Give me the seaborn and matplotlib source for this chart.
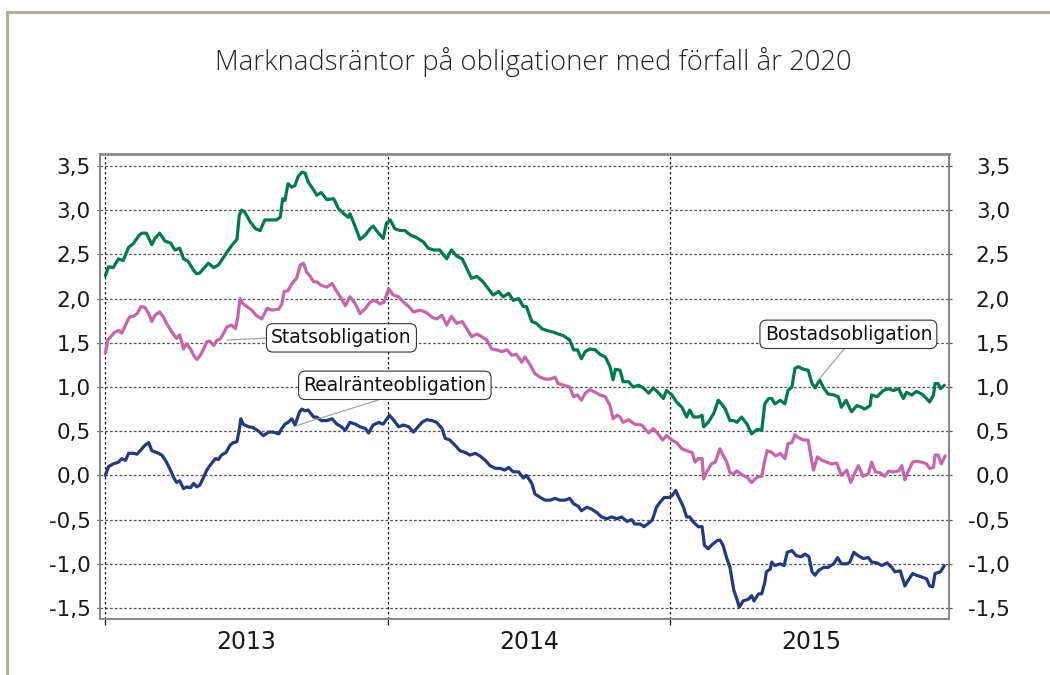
import numpy as np
import pandas as pd
import seaborn as sns
import matplotlib.pyplot as plt
import matplotlib.dates as mdates
from matplotlib.ticker import FixedLocator, FuncFormatter, NullFormatter
from matplotlib.lines import Line2D

# time is given in years after 2013-01-01
bostad_t = [0.000, 0.011, 0.028, 0.046, 0.064, 0.081, 0.099, 0.117, 0.129, 0.146, 0.164, 0.176, 0.191, 0.211, 0.229, 0.247, 0.264, 0.276, 0.294, 0.311,
            0.323, 0.335, 0.353, 0.364, 0.382, 0.400, 0.418, 0.435, 0.453, 0.465, 0.474, 0.482, 0.494, 0.512, 0.530, 0.547, 0.565, 0.583, 0.606, 0.618,
            0.627, 0.636, 0.647, 0.659, 0.671, 0.683, 0.695, 0.706, 0.718, 0.736,
            0.748, 0.765, 0.783, 0.807, 0.824, 0.842, 0.860, 0.866, 0.883, 0.901, 0.919, 0.936, 0.948, 0.966, 0.984, 0.995, 1.007, 1.025, 1.043, 1.060,
            1.078, 1.101, 1.125, 1.143, 1.160, 1.184, 1.208, 1.225, 1.243, 1.261, 1.278, 1.296, 1.314, 1.337, 1.355, 1.373, 1.390, 1.408, 1.426, 1.443,
            1.461, 1.479,
            1.490, 1.508, 1.526, 1.544, 1.561, 1.585, 1.603, 1.620, 1.644, 1.656, 1.670, 1.685, 1.697, 1.715, 1.732, 1.750, 1.768, 1.785, 1.795, 1.803,
            1.821, 1.832, 1.850, 1.868, 1.886, 1.903, 1.921, 1.939, 1.956, 1.974, 1.986, 2.003, 2.021, 2.039, 2.056, 2.068, 2.080, 2.098, 2.110, 2.115,
            2.133, 2.151, 2.169, 2.180, 2.192, 2.210, 2.222,
            2.233, 2.251, 2.269, 2.286, 2.304, 2.322, 2.334, 2.345, 2.357, 2.369, 2.387, 2.404, 2.416, 2.428, 2.440, 2.451, 2.469, 2.487, 2.499, 2.510,
            2.526, 2.540, 2.558, 2.575, 2.593, 2.605, 2.620, 2.640, 2.658, 2.675, 2.687, 2.705, 2.711, 2.729, 2.752, 2.770, 2.787, 2.805, 2.823, 2.835,
            2.852, 2.870, 2.888, 2.906, 2.917, 2.929, 2.935, 2.947, 2.955, 2.967]
bostad_v = [2.26, 2.36, 2.35, 2.45, 2.43, 2.58, 2.62, 2.71, 2.74, 2.74, 2.61, 2.68, 2.74, 2.65, 2.63, 2.55, 2.57, 2.45, 2.42, 2.32,
            2.28, 2.29, 2.36, 2.40, 2.35, 2.38, 2.47, 2.55, 2.62, 2.67, 2.94, 3.00, 2.98, 2.87, 2.79, 2.77, 2.89, 2.89, 2.89, 2.92,
            3.13, 3.11, 3.30, 3.26, 3.28, 3.38, 3.43, 3.42, 3.32, 3.23,
            3.17, 3.20, 3.12, 3.13, 3.02, 2.96, 2.92, 2.96, 2.81, 2.67, 2.72, 2.79, 2.82, 2.74, 2.68, 2.85, 2.89, 2.79, 2.77, 2.77,
            2.72, 2.69, 2.64, 2.57, 2.55, 2.55, 2.45, 2.55, 2.48, 2.45, 2.34, 2.23, 2.25, 2.19, 2.11, 2.04, 2.08, 2.02, 2.06, 1.98,
            2.00, 1.91,
            1.91, 1.74, 1.72, 1.66, 1.64, 1.62, 1.60, 1.58, 1.53, 1.42, 1.42, 1.32, 1.40, 1.43, 1.42, 1.37, 1.34, 1.23, 1.08, 1.20,
            1.19, 1.06, 1.06, 1.00, 1.02, 0.99, 0.93, 0.99, 0.94, 0.87, 0.96, 0.91, 0.83, 0.77, 0.66, 0.74, 0.66, 0.66, 0.68, 0.55,
            0.60, 0.70, 0.85, 0.81, 0.75, 0.62, 0.62,
            0.60, 0.66, 0.58, 0.47, 0.52, 0.51, 0.81, 0.87, 0.87, 0.81, 0.85, 0.81, 0.96, 1.00, 1.21, 1.23, 1.20, 1.19, 1.04, 0.99,
            1.08, 0.99, 0.92, 0.91, 0.89, 0.77, 0.85, 0.72, 0.79, 0.77, 0.75, 0.79, 0.91, 0.89, 0.96, 0.98, 0.96, 0.98, 0.87, 0.94,
            0.91, 0.95, 0.92, 0.87, 0.83, 0.91, 1.04, 1.04, 0.98, 1.02]

stats_t = [0.000, 0.007, 0.023, 0.034, 0.046, 0.058, 0.070, 0.085, 0.099, 0.113, 0.125, 0.140, 0.152, 0.164, 0.176, 0.191, 0.205, 0.217, 0.235, 0.252,
           0.264, 0.276, 0.288, 0.300, 0.311, 0.323, 0.335, 0.347, 0.359, 0.370, 0.382, 0.394, 0.406, 0.418, 0.429, 0.447, 0.459, 0.467, 0.476, 0.488,
           0.500, 0.518, 0.535, 0.553, 0.571, 0.589, 0.612, 0.624, 0.632, 0.647, 0.659, 0.677, 0.689, 0.700, 0.712, 0.724, 0.736,
           0.748, 0.765, 0.783, 0.801, 0.819, 0.836, 0.848, 0.866, 0.883, 0.901, 0.919, 0.936, 0.954, 0.972, 0.986, 1.001, 1.019, 1.037, 1.054, 1.072,
           1.090, 1.113, 1.137, 1.155, 1.172, 1.190, 1.208, 1.225, 1.243, 1.261, 1.278, 1.296, 1.314, 1.331, 1.349, 1.367, 1.384, 1.402, 1.420, 1.437,
           1.455, 1.473,
           1.485, 1.502, 1.520, 1.538, 1.555, 1.573, 1.591, 1.603, 1.620, 1.644, 1.656, 1.670, 1.685, 1.697, 1.715, 1.732, 1.750, 1.768, 1.785, 1.795,
           1.809, 1.821, 1.832, 1.850, 1.874, 1.897, 1.921, 1.939, 1.956, 1.972, 1.986, 2.003, 2.021, 2.039, 2.056, 2.074, 2.086, 2.098, 2.110, 2.115,
           2.127, 2.145, 2.157, 2.175, 2.186, 2.198, 2.210, 2.222,
           2.233, 2.251, 2.269, 2.286, 2.304, 2.322, 2.334, 2.342, 2.357, 2.372, 2.387, 2.404, 2.416, 2.428, 2.440, 2.451, 2.469, 2.487, 2.499, 2.505,
           2.519, 2.534, 2.552, 2.569, 2.587, 2.605, 2.622, 2.637, 2.652, 2.664, 2.681, 2.699, 2.711, 2.723, 2.740, 2.758, 2.770, 2.787, 2.805, 2.817,
           2.829, 2.840, 2.856, 2.870, 2.888, 2.906, 2.917, 2.929, 2.935, 2.947, 2.958, 2.970]
stats_v = [1.38, 1.53, 1.58, 1.62, 1.64, 1.61, 1.70, 1.79, 1.80, 1.83, 1.91, 1.90, 1.83, 1.74, 1.81, 1.85, 1.79, 1.72, 1.62, 1.55,
           1.59, 1.43, 1.49, 1.43, 1.36, 1.31, 1.35, 1.43, 1.51, 1.52, 1.47, 1.53, 1.54, 1.61, 1.68, 1.70, 1.66, 1.79, 2.00, 1.94,
           1.91, 1.87, 1.81, 1.77, 1.89, 1.87, 1.88, 1.94, 2.08, 2.09, 2.17, 2.23, 2.38, 2.40, 2.30, 2.26, 2.19,
           2.19, 2.15, 2.13, 2.17, 2.08, 2.00, 1.92, 2.02, 1.94, 1.83, 1.89, 1.96, 1.98, 1.94, 1.96, 2.11, 2.04, 2.02, 1.96, 1.91,
           1.85, 1.87, 1.84, 1.79, 1.77, 1.81, 1.70, 1.80, 1.72, 1.74, 1.66, 1.57, 1.60, 1.57, 1.53, 1.43, 1.42, 1.40, 1.42, 1.36,
           1.37, 1.28,
           1.34, 1.25, 1.15, 1.11, 1.09, 1.09, 1.11, 1.04, 1.02, 1.00, 0.89, 0.91, 0.85, 0.93, 0.97, 0.94, 0.91, 0.89, 0.79, 0.64,
           0.68, 0.66, 0.60, 0.63, 0.58, 0.57, 0.48, 0.53, 0.47, 0.40, 0.45, 0.40, 0.37, 0.30, 0.28, 0.26, 0.15, 0.19, 0.19, -0.04,
           0.04, 0.13, 0.15, 0.30, 0.23, 0.15, 0.03, 0.02,
           0.05, 0.01, -0.02, -0.08, -0.02, -0.01, 0.17, 0.28, 0.26, 0.22, 0.25, 0.19, 0.36, 0.37, 0.46, 0.43, 0.40, 0.40, 0.15, 0.06,
           0.21, 0.17, 0.15, 0.13, 0.14, 0.00, 0.06, -0.08, 0.04, 0.11, -0.01, 0.02, 0.15, 0.04, 0.03, -0.01, 0.05, 0.04, 0.05, 0.11,
           -0.05, 0.04, 0.15, 0.16, 0.15, 0.13, 0.08, 0.09, 0.23, 0.23, 0.13, 0.22]

real_t = [0.000, 0.011, 0.028, 0.046, 0.058, 0.070, 0.081, 0.099, 0.113, 0.129, 0.140, 0.152, 0.164, 0.182, 0.199, 0.217, 0.229, 0.241, 0.252, 0.264,
          0.276, 0.288, 0.300, 0.311, 0.323, 0.335, 0.347, 0.359, 0.370, 0.388, 0.400, 0.412, 0.427, 0.441, 0.453, 0.465, 0.474, 0.479, 0.488, 0.506,
          0.524, 0.541, 0.559, 0.577, 0.594, 0.612, 0.624, 0.636, 0.647, 0.659, 0.671, 0.686, 0.695, 0.706, 0.718, 0.736,
          0.748, 0.765, 0.783, 0.801, 0.819, 0.836, 0.848, 0.866, 0.883, 0.901, 0.919, 0.931, 0.948, 0.966, 0.984, 1.005, 1.019, 1.037, 1.054, 1.072,
          1.090, 1.101, 1.119, 1.137, 1.155, 1.172, 1.190, 1.202, 1.219, 1.237, 1.255, 1.272, 1.290, 1.308, 1.325, 1.343, 1.361, 1.379, 1.396, 1.414,
          1.426, 1.443, 1.461, 1.479,
          1.490, 1.508, 1.520, 1.538, 1.555, 1.573, 1.591, 1.608, 1.626, 1.644, 1.656, 1.673, 1.685, 1.703, 1.720, 1.738, 1.756, 1.773, 1.791, 1.809,
          1.827, 1.844, 1.862, 1.874, 1.891, 1.906, 1.921, 1.933, 1.939, 1.950, 1.962, 1.976, 1.992, 2.003, 2.019, 2.030, 2.045, 2.056, 2.068, 2.080,
          2.098, 2.110, 2.118, 2.133, 2.145, 2.163, 2.175, 2.186, 2.198, 2.210, 2.222,
          2.233, 2.243, 2.257, 2.275, 2.286, 2.295, 2.310, 2.322, 2.334, 2.339, 2.351, 2.357, 2.369, 2.387, 2.401, 2.413, 2.428, 2.446, 2.460, 2.475,
          2.490, 2.499, 2.510, 2.522, 2.540, 2.558, 2.575, 2.589, 2.605, 2.622, 2.634, 2.648, 2.664, 2.681, 2.699, 2.711, 2.729, 2.746, 2.764, 2.782,
          2.793, 2.811, 2.829, 2.840, 2.856, 2.870, 2.888, 2.906, 2.917, 2.927, 2.935, 2.953, 2.967]
real_v = [0.00, 0.10, 0.13, 0.15, 0.19, 0.17, 0.25, 0.25, 0.24, 0.30, 0.34, 0.37, 0.28, 0.26, 0.23, 0.15, 0.06, -0.02, -0.08, -0.06,
          -0.15, -0.13, -0.14, -0.09, -0.13, -0.11, -0.02, 0.06, 0.11, 0.19, 0.18, 0.23, 0.26, 0.34, 0.37, 0.38, 0.52, 0.64, 0.58, 0.55,
          0.54, 0.50, 0.45, 0.49, 0.49, 0.47, 0.53, 0.58, 0.60, 0.64, 0.57, 0.72, 0.75, 0.73, 0.74, 0.66,
          0.66, 0.62, 0.62, 0.64, 0.58, 0.55, 0.51, 0.60, 0.58, 0.55, 0.53, 0.48, 0.57, 0.60, 0.58, 0.68, 0.63, 0.55, 0.57, 0.55,
          0.49, 0.53, 0.60, 0.63, 0.62, 0.60, 0.53, 0.42, 0.40, 0.34, 0.28, 0.26, 0.23, 0.25, 0.22, 0.17, 0.11, 0.08, 0.08, 0.06,
          0.09, 0.04, 0.04, -0.03,
          0.00, -0.09, -0.21, -0.25, -0.28, -0.28, -0.26, -0.28, -0.28, -0.26, -0.32, -0.35, -0.40, -0.36, -0.38, -0.42, -0.47, -0.49, -0.47, -0.49,
          -0.47, -0.52, -0.50, -0.55, -0.55, -0.58, -0.54, -0.51, -0.47, -0.36, -0.30, -0.25, -0.25, -0.23, -0.17, -0.25, -0.36, -0.47, -0.47, -0.53,
          -0.58, -0.58, -0.79, -0.83, -0.79, -0.74, -0.73, -0.79, -0.94, -1.04, -1.30,
          -1.40, -1.49, -1.42, -1.40, -1.36, -1.42, -1.34, -1.34, -1.21, -1.09, -1.06, -0.98, -1.02, -1.00, -1.02, -0.87, -0.85, -0.91, -0.92, -0.89,
          -0.92, -1.09, -1.13, -1.08, -1.04, -1.04, -1.00, -0.93, -1.00, -1.00, -0.98, -0.87, -0.91, -0.94, -0.93, -0.98, -0.99, -1.02, -0.99, -1.04,
          -1.09, -1.08, -1.25, -1.19, -1.11, -1.13, -1.15, -1.17, -1.25, -1.26, -1.11, -1.09, -1.02]

series_names = ["Bostadsobligation", "Statsobligation", "Realränteobligation"]
series_colors = ["#007a4c", "#c566a9", "#243a7f"]
y_ticks = [-1.5, -1.0, -0.5, 0.0, 0.5, 1.0, 1.5, 2.0, 2.5, 3.0, 3.5]
title = "Marknadsräntor på obligationer med förfall år 2020"


def to_date(t):
    days = np.round(np.asarray(t, dtype=float) * 365.25)
    return pd.Timestamp("2013-01-01") + pd.to_timedelta(days, unit="D")


def fmt(v, pos=None):
    return f"{v:.1f}".replace(".", ",").replace("-0,0", "0,0")


frames = []
for name, t, v in zip(series_names, [bostad_t, stats_t, real_t], [bostad_v, stats_v, real_v]):
    frames.append(pd.DataFrame({"datum": to_date(t), "ranta": v, "serie": name}))
df = pd.concat(frames, ignore_index=True)

sns.set_style("white")
plt.rcParams["font.family"] = ["DejaVu Sans"]

fig = plt.figure(figsize=(10.5, 6.75), dpi=100)
ax = fig.add_axes([0.0952, 0.0830, 0.8086, 0.6889])

sns.lineplot(data=df, x="datum", y="ranta", hue="serie", hue_order=series_names,
             palette=series_colors, estimator=None, linewidth=2.3, legend=False, ax=ax)
ax.set_xlabel("")
ax.set_ylabel("")

ax.set_ylim(-1.624, 3.636)
ax.set_xlim(to_date(-0.019), to_date(2.984))
ax.yaxis.set_major_locator(FixedLocator(y_ticks))
ax.yaxis.set_major_formatter(FuncFormatter(fmt))

ax.xaxis.set_major_locator(mdates.YearLocator())
ax.xaxis.set_major_formatter(NullFormatter())
ax.xaxis.set_minor_locator(mdates.MonthLocator(bymonth=7, bymonthday=2))
ax.xaxis.set_minor_formatter(mdates.DateFormatter("%Y"))

ax.yaxis.grid(True, linestyle=(0, (2.2, 1.6)), color="#555555", linewidth=0.9)
ax.xaxis.grid(True, which="major", linestyle=(0, (2.0, 2.0)), color="#111111", linewidth=0.9)
ax.xaxis.grid(False, which="minor")
ax.set_axisbelow(True)

ax.tick_params(axis="y", direction="out", length=2.2, width=0.9, color="#555555",
               labelsize=15.5, labelcolor="#1a1a1a", pad=4.3, left=True)
ax.tick_params(axis="x", which="major", direction="out", length=4.5, width=0.9, color="#111111", bottom=True)
ax.tick_params(axis="x", which="minor", length=0, labelsize=17, labelcolor="#1a1a1a", pad=8)

for s in ax.spines.values():
    s.set_color("#8a8a8a")
    s.set_linewidth(1.5)
ax.spines["top"].set_linewidth(2)

ax2 = ax.twinx()
ax2.set_ylim(ax.get_ylim())
ax2.yaxis.set_major_locator(FixedLocator(y_ticks))
ax2.yaxis.set_major_formatter(FuncFormatter(fmt))
ax2.tick_params(axis="y", direction="out", length=2.2, width=0.9, color="#555555",
                labelsize=15.5, labelcolor="#1a1a1a", pad=41.8, right=True)
for lbl in ax2.get_yticklabels():
    lbl.set_horizontalalignment("right")
for s in ax2.spines.values():
    s.set_visible(False)

box = dict(boxstyle="round,pad=0.25,rounding_size=0.35", fc="white", ec="#333333", lw=0.8)
annots = [
    ("Statsobligation", 0.431, 1.53, 0.834, 1.556, (0.0, 0.5)),
    ("Realränteobligation", 0.678, 0.566, 1.025, 1.019, (0.5, 0.0)),
    ("Bostadsobligation", 2.521, 1.075, 2.627, 1.596, (0.5, 0.0)),
]
for txt, tx, ty, bx, by, rp in annots:
    ax.annotate(txt, xy=(to_date(tx), ty), xytext=(to_date(bx), by), textcoords="data",
                ha="center", va="center", fontsize=13.5, color="#111111", bbox=box, zorder=5,
                arrowprops=dict(arrowstyle="-", color="#9a9a9a", lw=0.8, relpos=rp, shrinkA=0, shrinkB=0))

fig.text(0.508, 0.908, title, ha="center", va="center", fontsize=19.8,
         family=["Open Sans", "DejaVu Sans"], weight="light", color="#262626")

# thin beige frame at the left and top of the figure
fig.add_artist(Line2D([7 / 1050, 7 / 1050], [0, 1 - 12 / 675], transform=fig.transFigure, color="#b5ad9d", lw=2.2))
fig.add_artist(Line2D([7 / 1050, 1], [1 - 12 / 675, 1 - 12 / 675], transform=fig.transFigure, color="#b5ad9d", lw=2.2))

fig.savefig("out.png", dpi=100)
